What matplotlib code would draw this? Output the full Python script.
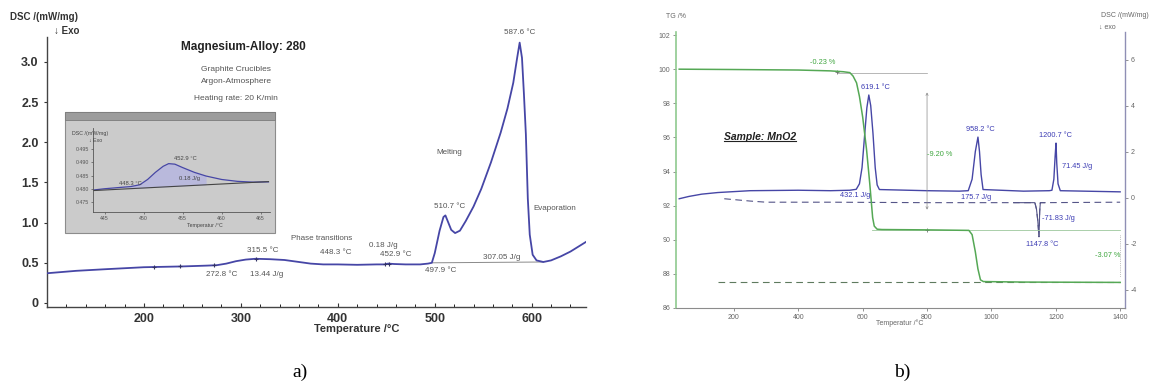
"""
Two thermal-analysis panels: a) DSC of a magnesium alloy, b) TG/DSC of MnO2
"""

import matplotlib.pyplot as plt
from matplotlib import patches
from matplotlib.lines import Line2D
from matplotlib.ticker import MultipleLocator

plt.rcParams["font.family"] = ["Liberation Sans", "DejaVu Sans"]
plt.rcParams["axes.unicode_minus"] = False

# ---- a) magnesium alloy, heating curve
MG_TEMP = [100, 130, 160, 200, 240, 265, 275, 285, 295, 305, 315, 330, 345,
           360, 372, 385, 400, 420, 440, 448, 452, 458, 470, 485, 493, 497,
           500, 505, 509, 511, 514, 517, 521, 526, 532, 540, 548, 558, 568,
           575, 581, 585, 587.6, 590, 592, 594, 596, 598, 601, 605, 612, 620,
           630, 640, 648, 656]
MG_DSC = [0.37, 0.40, 0.42, 0.445, 0.455, 0.465, 0.47, 0.49, 0.52, 0.54,
          0.55, 0.545, 0.535, 0.51, 0.49, 0.48, 0.48, 0.475, 0.48, 0.48, 0.49,
          0.485, 0.48, 0.48, 0.49, 0.50, 0.62, 0.90, 1.07, 1.09, 1.00, 0.91,
          0.87, 0.90, 1.02, 1.20, 1.42, 1.75, 2.12, 2.42, 2.74, 3.05, 3.24,
          3.05, 2.60, 2.10, 1.30, 0.85, 0.60, 0.53, 0.51, 0.53, 0.58, 0.64,
          0.70, 0.76]
MG_BASE_T = [497.9, 612]
MG_BASE_V = [0.50, 0.51]
MG_MARK_T = [210, 237, 272.8, 315.5, 448.3, 452.9]
MG_MARK_V = [0.45, 0.455, 0.47, 0.55, 0.48, 0.49]

# (text, temperature, value)
MG_NOTES = [
    ("587.6 °C", 587.6, 3.36),
    ("Melting", 515, 1.87),
    ("510.7 °C", 515.5, 1.20),
    ("Evaporation", 624, 1.17),
    ("307.05 J/g", 569, 0.56),
    ("497.9 °C", 506, 0.41),
    ("0.18 J/g", 447, 0.71),
    ("452.9 °C", 460, 0.60),
    ("448.3 °C", 398, 0.63),
    ("Phase transitions", 383, 0.80),
    ("315.5 °C", 322.5, 0.65),
    ("272.8 °C", 280, 0.36),
    ("13.44 J/g", 327, 0.35),
]

# inset: zoom on the small 452.9 °C effect
IN_TEMP = [443.5, 445, 447, 448.3, 449.5, 450.5, 451.5, 452.5, 453.2, 454,
           455, 456.5, 458, 460, 462, 464, 466]
IN_DSC = [0.4795, 0.4800, 0.4805, 0.4808, 0.4815, 0.4835, 0.4862, 0.4885,
          0.4895, 0.4893, 0.4880, 0.4862, 0.4848, 0.4835, 0.4828, 0.4825,
          0.4826]
IN_BASE_T = [443.5, 466]
IN_BASE_V = [0.4793, 0.4827]

# ---- b) MnO2
TG_TEMP = [30, 200, 400, 500, 540, 560, 570, 581, 590, 600, 612, 622, 631,
           636, 645, 660, 800, 930, 940, 950, 958, 966, 975, 1100, 1400]
TG_VAL = [100.0, 99.98, 99.95, 99.9, 99.85, 99.8, 99.6, 99.2, 98.4, 97.2,
          95.3, 93.3, 91.3, 90.8, 90.62, 90.6, 90.58, 90.55, 90.3, 89.3,
          88.3, 87.65, 87.55, 87.52, 87.5]
TG_COOL_T = [150, 1400]
TG_COOL_V = [87.55, 87.55]

DSC_TEMP = [30, 60, 100, 150, 250, 400, 500, 560, 580, 590, 598, 606, 613,
            619.1, 625, 632, 639, 645, 652, 800, 900, 928, 940, 950, 958.2,
            963, 968, 974, 1100, 1180, 1188, 1194, 1198, 1200.7, 1203, 1207,
            1214, 1400]
DSC_VAL = [-0.05, 0.05, 0.15, 0.22, 0.30, 0.32, 0.30, 0.32, 0.36, 0.6, 1.3,
           2.7, 3.9, 4.46, 4.0, 2.8, 1.3, 0.55, 0.35, 0.30, 0.28, 0.30, 0.8,
           2.0, 2.63, 2.0, 1.0, 0.35, 0.28, 0.30, 0.32, 0.8, 1.8, 2.37, 1.5,
           0.6, 0.30, 0.25]
COOL_TEMP = [170, 250, 300, 500, 800, 1070, 1135, 1140, 1144, 1147.8, 1150,
             1152, 1165, 1400]
COOL_VAL = [-0.05, -0.15, -0.20, -0.20, -0.22, -0.22, -0.22, -0.5, -1.0,
            -1.7, -0.6, -0.22, -0.22, -0.20]

TG_STEP1 = 99.77
TG_STEP2 = 90.57

TG_NOTES = [("-0.23 %", 475, 100.37), ("-9.20 %", 840, 94.97),
            ("-3.07 %", 1362, 89.1)]
DSC_NOTES = [
    ("619.1 °C", 640, 4.8),
    ("432.1 J/g", 578, 0.1),
    ("958.2 °C", 966, 2.95),
    ("175.7 J/g", 953, 0.0),
    ("1200.7 °C", 1200, 2.68),
    ("71.45 J/g", 1266, 1.37),
    ("-71.83 J/g", 1209, -0.93),
    ("1147.8 °C", 1159, -2.03),
]

GREY = "#555555"
CURVE = "#4646a6"
GREEN = "#55a855"
BLUE_TXT = "#3c3cb4"
GREEN_TXT = "#3fa63f"

fig = plt.figure(figsize=(11.51, 3.85), dpi=100)

# ================= a) =================
ax = fig.add_axes([0.0408, 0.2026, 0.4683, 0.7013])
ax.plot(MG_TEMP, MG_DSC, color=CURVE, lw=1.3, zorder=3)
ax.plot(MG_BASE_T, MG_BASE_V, color="#8a8a8a", lw=0.7, zorder=2)
ax.plot(MG_MARK_T, MG_MARK_V, "+", color="#333366", ms=3, mew=0.8, zorder=4)
ax.set_xlim(100, 656)
ax.set_ylim(-0.05, 3.31)
ax.set_xticks([200, 300, 400, 500, 600])
ax.set_yticks([0, 0.5, 1.0, 1.5, 2.0, 2.5, 3.0])
ax.set_yticklabels(["0", "0.5", "1.0", "1.5", "2.0", "2.5", "3.0"])
ax.xaxis.set_minor_locator(MultipleLocator(20))
ax.tick_params(axis="x", direction="in", length=3, width=0.8, labelsize=9,
               colors="#333333", pad=4)
ax.tick_params(axis="x", which="minor", direction="in", length=2, width=0.6)
ax.tick_params(axis="y", direction="out", length=2.5, width=0.8, labelsize=9,
               colors="#333333")
for lab in ax.get_xticklabels() + ax.get_yticklabels():
    lab.set_fontweight("bold")
for side in ("top", "right"):
    ax.spines[side].set_visible(False)
for side in ("left", "bottom"):
    ax.spines[side].set_color("#444444")
    ax.spines[side].set_linewidth(1.0)

for txt, tx, ty in MG_NOTES:
    ax.text(tx, ty, txt, fontsize=5.8, color=GREY, ha="center", va="center",
            clip_on=False)

ax.text(303, 3.18, "Magnesium-Alloy: 280", fontsize=8.5, fontweight="bold",
        color="#222222", ha="center", va="center")
for txt, ty in (("Graphite Crucibles", 2.91), ("Argon-Atmosphere", 2.75),
                ("Heating rate: 20 K/min", 2.55)):
    ax.text(295, ty, txt, fontsize=6, color=GREY, ha="center", va="center")

fig.text(0.0087, 0.955, "DSC /(mW/mg)", fontsize=7, fontweight="bold",
         color="#333333", va="center")
fig.text(0.047, 0.920, "↓ Exo", fontsize=7, fontweight="bold",
         color="#333333", va="center")
fig.text(0.310, 0.146, "Temperature /°C", fontsize=8, fontweight="bold",
         color="#333333", ha="center", va="center")

# inset box with title bar
box = patches.Rectangle((0.0565, 0.3948), 0.1824, 0.3143,
                        transform=fig.transFigure, facecolor="#cbcbcb",
                        edgecolor="#8c8c8c", lw=0.8, zorder=2)
bar = patches.Rectangle((0.0565, 0.6883), 0.1824, 0.0208,
                        transform=fig.transFigure, facecolor="#9c9c9c",
                        edgecolor="#7c7c7c", lw=0.6, zorder=2)
fig.patches.extend([box, bar])

ins = fig.add_axes([0.0808, 0.4494, 0.1538, 0.2182], zorder=3)
ins.set_facecolor("#cbcbcb")
ins.fill_between(IN_TEMP[3:13], IN_DSC[3:13],
                 [IN_BASE_V[0] + (t - IN_BASE_T[0]) * (IN_BASE_V[1] - IN_BASE_V[0])
                  / (IN_BASE_T[1] - IN_BASE_T[0]) for t in IN_TEMP[3:13]],
                 color="#b9b9dc", lw=0)
ins.plot(IN_TEMP, IN_DSC, color=CURVE, lw=0.9)
ins.plot(IN_BASE_T, IN_BASE_V, color="#444444", lw=0.8)
ins.set_xlim(443.5, 466.2)
ins.set_ylim(0.4712, 0.503)
ins.set_xticks([445, 450, 455, 460, 465])
ins.set_yticks([0.475, 0.480, 0.485, 0.490, 0.495])
ins.set_yticklabels(["0.475", "0.480", "0.485", "0.490", "0.495"])
ins.tick_params(labelsize=3.8, length=1.5, width=0.5, colors="#555555",
                pad=1.5)
for side in ("top", "right"):
    ins.spines[side].set_visible(False)
for side in ("left", "bottom"):
    ins.spines[side].set_color("#555555")
    ins.spines[side].set_linewidth(0.6)
ins.text(448.3, 0.4818, "448.3 °C", fontsize=4.2, color="#444444",
         ha="center", va="center")
ins.text(455.3, 0.4913, "452.9 °C", fontsize=4.2, color="#444444",
         ha="center", va="center")
ins.text(455.9, 0.4839, "0.18 J/g", fontsize=4.2, color="#444444",
         ha="center", va="center")
fig.text(0.0625, 0.652, "DSC /(mW/mg)", fontsize=3.8, color="#444444",
         va="center")
fig.text(0.077, 0.634, "↓ Exo", fontsize=3.8, color="#444444", va="center")
fig.text(0.178, 0.413, "Temperatur /°C", fontsize=3.8, color="#444444",
         ha="center", va="center")

fig.text(0.261, 0.033, "a)", fontsize=14, family="Liberation Serif",
         ha="center", va="center")

# ================= b) =================
tg = fig.add_axes([0.5873, 0.2, 0.3901, 0.7169])
dsc = tg.twinx()
tg.set_zorder(2)
tg.patch.set_visible(False)

tg.plot(TG_TEMP, TG_VAL, color=GREEN, lw=1.1, zorder=3)
tg.plot(TG_COOL_T, TG_COOL_V, color="#5e7a5e", lw=0.8, ls=(0, (6, 4)))
tg.plot([520, 800], [TG_STEP1, TG_STEP1], color="#9a9a9a", lw=0.5)
tg.plot([630, 1400], [TG_STEP2, TG_STEP2], color="#9cc89c", lw=0.6)
tg.annotate("", xy=(800, 91.6), xytext=(800, 98.8),
            arrowprops=dict(arrowstyle="<->", color="#8a8a8a", lw=0.5,
                            mutation_scale=4))
tg.plot([1398, 1398], [90.3, 87.8], color="#8a8a8a", lw=0.5, ls=":")
tg.plot([519, 800], [99.85, TG_STEP2], "+", color="#707070", ms=3, mew=0.6)
tg.set_xlim(20, 1415)
tg.set_ylim(86, 102.18)
tg.set_xticks([200, 400, 600, 800, 1000, 1200, 1400])
tg.set_yticks([86, 88, 90, 92, 94, 96, 98, 100, 102])
tg.tick_params(labelsize=5, length=2, width=0.5, colors="#666666", pad=2)
for side in ("top", "right"):
    tg.spines[side].set_visible(False)
tg.spines["left"].set_color("#8fc98f")
tg.spines["left"].set_linewidth(1.2)
tg.spines["bottom"].set_color("#8c8c8c")
tg.spines["bottom"].set_linewidth(0.8)

for txt, tx, ty in TG_NOTES:
    tg.text(tx, ty, txt, fontsize=5.3, color=GREEN_TXT, ha="center",
            va="center")

sample = tg.text(281, 96.03, "Sample: MnO2", fontsize=7.5, fontweight="bold",
                 style="italic", color="#222222", ha="center", va="center")

dsc.plot(DSC_TEMP, DSC_VAL, color=CURVE, lw=1.0, zorder=3)
dsc.plot(COOL_TEMP, COOL_VAL, color="#555588", lw=0.8, ls=(0, (6, 4)))
cool_mid = [i for i, t in enumerate(COOL_TEMP) if 1070 <= t <= 1165]
dsc.plot([COOL_TEMP[i] for i in cool_mid], [COOL_VAL[i] for i in cool_mid],
         color="#555588", lw=0.8)
dsc.set_ylim(-4.8, 7.2)
dsc.set_yticks([-4, -2, 0, 2, 4, 6])
dsc.tick_params(labelsize=5, length=2, width=0.5, colors="#666666", pad=2)
for side in ("top", "left", "bottom"):
    dsc.spines[side].set_visible(False)
dsc.spines["right"].set_color("#8f8fb5")
dsc.spines["right"].set_linewidth(1.0)
for txt, tx, ty in DSC_NOTES:
    dsc.text(tx, ty, txt, fontsize=5.3, color=BLUE_TXT, ha="center",
             va="center")

fig.text(0.587, 0.956, "TG /%", fontsize=5, color="#666666", ha="center",
         va="center")
fig.text(0.977, 0.961, "DSC /(mW/mg)", fontsize=5, color="#666666",
         ha="center", va="center")
fig.text(0.962, 0.930, "↓ exo", fontsize=5, color="#666666", ha="center",
         va="center")
fig.text(0.782, 0.161, "Temperatur /°C", fontsize=5, color="#666666",
         ha="center", va="center")

fig.text(0.784, 0.033, "b)", fontsize=14, family="Liberation Serif",
         ha="center", va="center")

# underline the sample name
fig.canvas.draw()
bb = sample.get_window_extent().transformed(fig.transFigure.inverted())
fig.add_artist(Line2D([bb.x0, bb.x1], [bb.y0 + 0.002, bb.y0 + 0.002],
                      color="#222222", lw=0.8, transform=fig.transFigure))

fig.savefig("out.png", dpi=100)
